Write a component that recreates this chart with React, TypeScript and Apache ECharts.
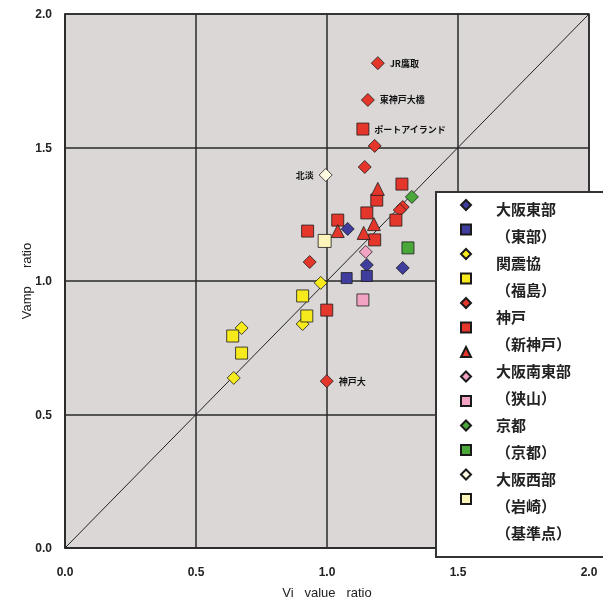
import React, { useEffect, useRef } from "react";
import * as echarts from "echarts";

// ---- data (x = Vi value ratio, y = Vamp ratio) ----
const osakaEastSite = [[1.079, 1.195], [1.152, 1.06], [1.289, 1.049]];
const higashiStation = [[1.075, 1.011], [1.152, 1.019]];
const kanshinkyoSite = [[0.976, 0.993], [0.907, 0.839], [0.674, 0.824], [0.644, 0.637]];
const fukushimaStation = [[0.907, 0.944], [0.923, 0.869], [0.64, 0.794], [0.674, 0.73]];
const kobeSite = [
  [1.194, 1.816], [1.156, 1.678], [1.182, 1.506], [1.144, 1.427],
  [0.934, 1.071], [0.999, 0.625], [1.289, 1.277], [1.278, 1.266],
];
const kobeSiteNames = ["JR鷹取", "東神戸大橋", "", "", "", "神戸大", "", ""];
const kobeSquare = [
  [1.137, 1.569], [1.286, 1.363], [1.19, 1.303], [0.926, 1.187], [1.041, 1.228],
  [1.152, 1.255], [1.182, 1.154], [1.263, 1.228], [0.999, 0.891],
];
const kobeSquareNames = ["ポートアイランド", "", "", "", "", "", "", "", ""];
const shinKobeStation = [[1.194, 1.345], [1.041, 1.187], [1.179, 1.213], [1.14, 1.18]];
const osakaSouthEastSite = [[1.148, 1.109]];
const sayamaStation = [[1.137, 0.929]];
const kyotoSite = [[1.324, 1.315]];
const kyotoStation = [[1.309, 1.124]];
const osakaWestSite = [[0.995, 1.397]];
const osakaWestSiteNames = ["北淡"];
const iwasakiStation = [[0.991, 1.15]];
const diagonal = [[0, 0], [2, 2]];

const axisTicks = [0, 0.5, 1.0, 1.5, 2.0];

const seriesNames = [
  "大阪東部", "(東部)", "関震協", "(福島)", "神戸", "神戸□", "(新神戸)",
  "大阪南東部", "(狭山)", "京都", "(京都)", "大阪西部", "(岩崎)",
];
const legendTexts = [
  "大阪東部", "（東部）", "関震協", "（福島）", "神戸", "（新神戸）", "大阪南東部",
  "（狭山）", "京都", "（京都）", "大阪西部", "（岩崎）", "（基準点）",
];

const BLUE = "#3f3d9e";
const YELLOW = "#f6ea1c";
const RED = "#e5362c";
const PINK = "#f2a3c4";
const GREEN = "#4aa83a";
const CREAM = "#fffbe3";
const PALE = "#fcf4b8";

function withLabels(points: number[][], names: string[] | null, pos: string) {
  return points.map((p, i) => {
    const n = names ? names[i] : "";
    if (!n) return { value: p };
    return {
      value: p,
      label: {
        show: true,
        formatter: n,
        position: pos,
        distance: 5,
        fontSize: 9,
        fontWeight: "bold",
        color: "#111",
        fontFamily: "Noto Sans CJK JP",
      },
    };
  });
}

export default function App() {
  const ref = useRef<HTMLDivElement>(null);
  useEffect(() => {
    if (!ref.current) return;
    const chart = echarts.init(ref.current, null, { renderer: "svg" });
    const mk = (
      name: string,
      data: any[],
      symbol: string,
      size: number,
      color: string
    ) => ({
      name,
      type: "scatter",
      data,
      symbol,
      symbolSize: size,
      itemStyle: { color, borderColor: "#1a1a1a", borderWidth: 0.8, opacity: 1 },
      z: 3,
    });
    const series: any[] = [
      {
        name: "diag",
        type: "line",
        data: diagonal,
        symbol: "none",
        lineStyle: { color: "#222", width: 1 },
        z: 1,
        silent: true,
      },
      mk(seriesNames[0], osakaEastSite, "diamond", 13, BLUE),
      mk(seriesNames[1], higashiStation, "rect", 11, BLUE),
      mk(seriesNames[2], kanshinkyoSite, "diamond", 13, YELLOW),
      mk(seriesNames[3], fukushimaStation, "rect", 12, YELLOW),
      mk(seriesNames[4], withLabels(kobeSite, kobeSiteNames, "right"), "diamond", 13, RED),
      mk(seriesNames[5], withLabels(kobeSquare, kobeSquareNames, "right"), "rect", 12, RED),
      mk(seriesNames[6], shinKobeStation, "triangle", 13, RED),
      mk(seriesNames[7], osakaSouthEastSite, "diamond", 13, PINK),
      mk(seriesNames[8], sayamaStation, "rect", 12, PINK),
      mk(seriesNames[9], kyotoSite, "diamond", 13, GREEN),
      mk(seriesNames[10], kyotoStation, "rect", 12, GREEN),
      mk(seriesNames[11], withLabels(osakaWestSite, osakaWestSiteNames, "left"), "diamond", 13, CREAM),
      mk(seriesNames[12], iwasakiStation, "rect", 13, PALE),
    ];

    const axisLabel = {
      formatter: (v: number) => v.toFixed(1),
      fontSize: 12,
      fontWeight: "bold",
      color: "#222",
      fontFamily: "Liberation Sans",
    };
    const splitLine = { show: true, lineStyle: { color: "#2a2a2a", width: 1.5 } };

    chart.setOption({
      animation: false,
      grid: {
        left: 65,
        top: 14,
        right: 14,
        bottom: 58,
        show: true,
        backgroundColor: "#dbd7d7",
        borderColor: "#2a2a2a",
        borderWidth: 1.5,
        outerBoundsMode: "none",
      },
      xAxis: {
        type: "value",
        min: axisTicks[0],
        max: axisTicks[axisTicks.length - 1],
        interval: 0.5,
        axisLine: { show: true, lineStyle: { color: "#2a2a2a", width: 1.5 } },
        axisTick: { show: false },
        axisLabel: { ...axisLabel, margin: 18 },
        splitLine,
        name: "Vi   value   ratio",
        nameLocation: "middle",
        nameGap: 38,
        nameMoveOverlap: false,
        nameTextStyle: { fontSize: 13, color: "#222", fontFamily: "Liberation Sans" },
      },
      yAxis: {
        type: "value",
        min: axisTicks[0],
        max: axisTicks[axisTicks.length - 1],
        interval: 0.5,
        axisLine: { show: true, lineStyle: { color: "#2a2a2a", width: 1.5 } },
        axisTick: { show: false },
        axisLabel: { ...axisLabel, margin: 13 },
        splitLine,
        name: "Vamp     ratio",
        nameLocation: "middle",
        nameGap: 32,
        nameMoveOverlap: false,
        nameTextStyle: { fontSize: 13, color: "#222", fontFamily: "Liberation Sans" },
      },
      graphic: [
        {
          type: "rect",
          z: 5,
          shape: { x: 436, y: 192, width: 200, height: 365 },
          style: { fill: "#ffffff", stroke: "#333", lineWidth: 2 },
        },
      ],
      legend: [
        {
          data: seriesNames,
          orient: "vertical",
          left: 460,
          top: 199,
          padding: 0,
          itemWidth: 10,
          itemHeight: 10,
          itemGap: 12.5,
          formatter: () => "",
          textStyle: { fontSize: 9 },
          selectedMode: false,
          z: 10,
        },
        {
          data: seriesNames,
          orient: "vertical",
          left: 489,
          top: 200,
          padding: 0,
          itemWidth: 1,
          itemHeight: 15,
          itemGap: 10,
          itemStyle: { opacity: 0 },
          formatter: (name: string) => legendTexts[seriesNames.indexOf(name)],
          textStyle: {
            fontSize: 15,
            fontWeight: "bold",
            color: "#222",
            fontFamily: "Noto Sans CJK JP",
          },
          selectedMode: false,
          z: 10,
        },
      ],
      series,
    });
    return () => chart.dispose();
  }, []);
  return (
    <div
      ref={ref}
      style={{ position: "fixed", left: 0, top: 0, width: 603, height: 606 }}
    />
  );
}
